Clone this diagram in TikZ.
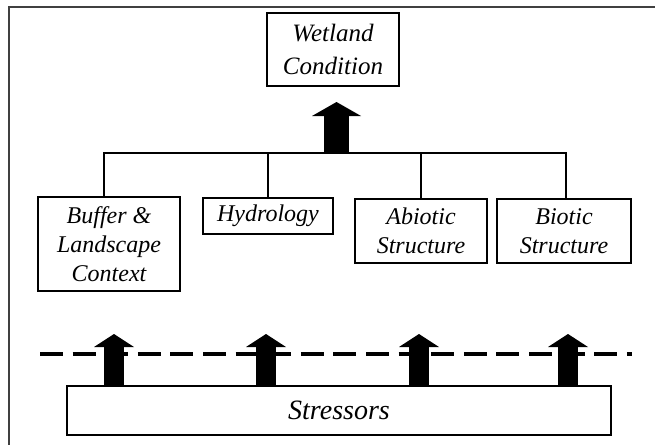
\documentclass[tikz,border=0pt]{standalone}
\usepackage{fontspec}
\setmainfont{Liberation Serif}
\usetikzlibrary{arrows.meta}
\begin{document}
\begin{tikzpicture}[x=1pt,y=-1pt,
  box/.style={draw, line width=1.2pt, inner sep=0pt, align=center,
    font=\fontsize{24}{29}\selectfont\itshape},
  tree/.style={line width=2.8pt, line join=miter},
  bigarrow/.style={line width=25pt,
    -{Triangle[length=14pt,width=49pt,line width=0pt]}},
  smallarrow/.style={line width=20pt,
    -{Triangle[length=13pt,width=40pt,line width=0pt]}},
  cutoff/.style={line width=4pt, dash pattern=on 23pt off 9.6pt},
  frame/.style={line width=2pt, black!75}
]
\useasboundingbox (0,0) rectangle (655,444);

% outer frame (continues past the page on the right and bottom)
\draw[frame] (9,7) rectangle (720,520);

% top-level node
\node[box, minimum width=132pt, minimum height=73pt,
      font=\fontsize{25}{33}\selectfont\itshape] (wc) at (333,49.5) {Wetland\\Condition};

% attribute boxes
\node[box, minimum width=142pt, minimum height=94pt] (buf) at (109,244) {Buffer \&\\Landscape\\Context};
\node[box, minimum width=130pt, minimum height=36pt] (hyd) at (268,216) {Hydrology};
\node[box, minimum width=132pt, minimum height=64pt] (abi) at (421,231) {Abiotic\\Structure};
\node[box, minimum width=134pt, minimum height=64pt] (bio) at (564,231) {Biotic\\Structure};

% stressors bar
\node[box, minimum width=544pt, minimum height=49pt,
      font=\fontsize{28}{32}\selectfont\itshape] (st) at (339,410.5) {Stressors};

% tree joining the attributes
\coordinate (tl) at (104,153);
\coordinate (tr) at (566,153);
\coordinate (trunk) at (336.5,153);
\coordinate (tip) at (336.5,102);
\draw[tree] (tl |- buf.north) -- (tl) -- (tr) -- (tr |- bio.north);
\draw[tree] (hyd.north) -- (hyd.north |- tl);
\draw[tree] (abi.north) -- (abi.north |- tl);
\draw[bigarrow] (trunk) -- (tip);

% dashed threshold line
\coordinate (dl) at (40,354);
\coordinate (dr) at (632,354);
\draw[cutoff] (dl) -- (dr);

% stressor arrows
\foreach \x/\n in {114/1,266/2,419/3,568/4}{
  \coordinate (up\n) at (\x,334);
  \draw[smallarrow] (up\n |- st.north) -- (up\n);
}
\end{tikzpicture}
\end{document}
